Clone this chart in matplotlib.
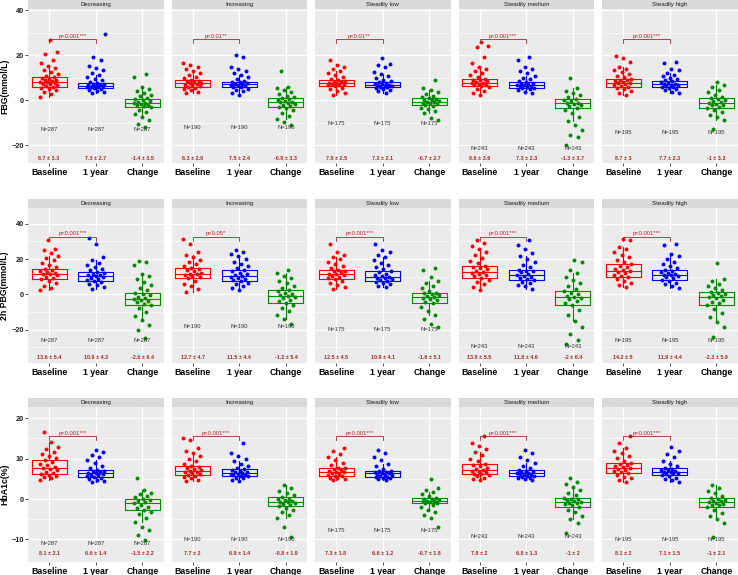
import matplotlib.pyplot as plt
import numpy as np

plt.rcParams['font.family'] = ['Liberation Sans', 'DejaVu Sans']

groups = ['Baseline', '1 year', 'Change']
trajectories = ['Decreasing', 'Increasing', 'Steadily low', 'Steadily medium', 'Steadily high']
measures = ['FBG(mmol/L)', '2h PBG(mmol/L)', 'HbA1c(%)']
n_patients = [287, 190, 175, 243, 195]

p_labels = [
    ['p<0.001***', 'p<0.01**', 'p<0.01**', 'p<0.001***', 'p<0.001***'],
    ['p<0.001***', 'p<0.05*', 'p<0.001***', 'p<0.001***', 'p<0.001***'],
    ['p<0.001***', 'p<0.001***', 'p<0.001***', 'p<0.001***', 'p<0.001***'],
]

# mean and sd printed under each group: [trajectory][group]
fbg_mean = [[8.7, 7.3, -1.4], [8.3, 7.5, -0.8], [7.9, 7.2, -0.7], [8.6, 7.3, -1.3], [8.7, 7.7, -1]]
fbg_sd = [[3.3, 2.7, 3.5], [2.8, 2.4, 3.3], [2.5, 2.1, 2.7], [3.6, 2.3, 3.7], [3, 2.3, 3.3]]
pbg_mean = [[13.6, 10.9, -2.6], [12.7, 11.5, -1.2], [12.5, 10.9, -1.6], [13.8, 11.8, -2], [14.2, 11.9, -2.3]]
pbg_sd = [[5.4, 4.3, 6.4], [4.7, 4.4, 5.4], [4.5, 4.1, 5.1], [5.5, 4.6, 6.4], [5, 4.4, 5.9]]
hba1c_mean = [[8.1, 6.6, -1.5], [7.7, 6.9, -0.8], [7.3, 6.6, -0.7], [7.8, 6.8, -1], [8.1, 7.1, -1]]
hba1c_sd = [[2.1, 1.4, 2.2], [2, 1.4, 1.9], [1.8, 1.2, 1.8], [2, 1.3, 2], [2, 1.5, 2.1]]

# box statistics: [trajectory][group]
fbg_q1 = [[5.9, 5.3, -3.3], [5.9, 5.6, -3.0], [6.2, 5.6, -2.2], [6.2, 5.5, -3.4], [5.9, 5.6, -3.4]]
fbg_med = [[8.0, 6.4, -1.5], [7.4, 7.0, -1.0], [7.4, 6.8, -0.7], [7.7, 6.8, -1.5], [7.7, 7.1, -1.2]]
fbg_q3 = [[10.1, 7.7, 0.3], [8.9, 8.1, 0.7], [8.9, 8.0, 0.7], [9.5, 7.9, 0.6], [9.5, 8.3, 0.7]]
pbg_q1 = [[8.7, 7.6, -6.2], [9.4, 7.6, -4.7], [8.9, 7.6, -4.9], [9.4, 7.9, -5.9], [9.8, 8.3, -5.9]]
pbg_med = [[11.7, 10.2, -2.5], [11.7, 10.2, -1.1], [11.3, 9.8, -1.5], [12.7, 11.1, -1.5], [13.0, 11.1, -1.5]]
pbg_q3 = [[14.2, 12.7, 0.9], [15.1, 13.6, 2.3], [14.0, 13.0, 0.9], [16.2, 14.0, 1.7], [17.0, 13.6, 1.1]]
hba1c_q1 = [[6.2, 5.5, -2.7], [6.0, 5.8, -1.7], [5.8, 5.5, -1.1], [6.1, 5.7, -1.9], [6.4, 6.0, -1.9]]
hba1c_med = [[7.7, 6.4, -1.1], [7.0, 6.4, -0.7], [6.8, 6.4, -0.4], [7.2, 6.4, -0.7], [7.6, 6.8, -0.8]]
hba1c_q3 = [[9.7, 7.2, 0.0], [8.2, 7.4, 0.4], [7.8, 7.0, 0.2], [8.6, 7.2, 0.3], [9.0, 7.6, 0.3]]

# individual values (estimated from the point clouds): [trajectory][group]
fbg_points = [
    [[1.5, 2.8, 3.8, 4.5, 5.0, 5.5, 5.9, 6.3, 6.7, 7.0, 7.3, 7.6, 7.9, 8.1, 8.4, 8.7, 9.0, 9.4, 9.8, 10.1, 10.8, 11.6, 12.5, 13.4, 14.3, 15.2, 16.5, 18.0, 20.5, 21.5, 26.5],
     [3.0, 3.6, 4.1, 4.5, 4.9, 5.3, 5.6, 5.8, 6.0, 6.2, 6.4, 6.6, 6.8, 7.0, 7.3, 7.7, 8.2, 8.8, 9.5, 10.3, 11.2, 12.2, 13.2, 14.2, 15.0, 17.8, 19.0, 29.6],
     [-11.9, -10.5, -9.0, -7.6, -6.3, -5.2, -4.3, -3.3, -2.8, -2.4, -2.0, -1.7, -1.5, -1.2, -0.9, -0.5, -0.1, 0.3, 0.9, 1.6, 2.4, 3.3, 4.2, 5.1, 6.0, 10.4, 11.6]],
    [[3.0, 3.8, 4.5, 5.0, 5.5, 5.9, 6.2, 6.5, 6.8, 7.1, 7.4, 7.7, 8.0, 8.3, 8.6, 8.9, 9.6, 10.4, 11.2, 12.0, 12.9, 13.8, 14.8, 15.6, 16.3],
     [2.2, 3.2, 4.0, 4.6, 5.1, 5.6, 5.9, 6.2, 6.5, 6.8, 7.0, 7.3, 7.6, 7.9, 8.1, 8.6, 9.3, 10.1, 11.0, 12.0, 13.0, 14.0, 14.8, 19.3, 19.9],
     [-11.0, -9.8, -8.4, -7.0, -5.6, -4.4, -3.6, -3.0, -2.5, -2.0, -1.6, -1.3, -1.0, -0.7, -0.3, 0.1, 0.4, 0.7, 1.3, 2.0, 2.8, 3.6, 4.5, 5.2, 5.9, 13.0]],
    [[2.2, 3.3, 4.2, 4.9, 5.5, 6.2, 6.5, 6.8, 7.0, 7.2, 7.4, 7.6, 7.9, 8.2, 8.5, 8.9, 9.5, 10.2, 11.0, 11.9, 12.8, 13.8, 14.7, 15.6, 18.0],
     [3.3, 3.9, 4.4, 4.8, 5.2, 5.6, 5.9, 6.1, 6.3, 6.6, 6.8, 7.0, 7.3, 7.6, 8.0, 8.5, 9.1, 9.8, 10.6, 11.5, 12.6, 14.8, 15.4, 16.0, 18.5],
     [-8.9, -8.1, -5.9, -5.0, -4.2, -3.4, -2.7, -2.2, -1.8, -1.5, -1.2, -0.9, -0.7, -0.4, -0.1, 0.2, 0.5, 0.7, 1.3, 2.0, 2.8, 3.6, 4.4, 5.2, 8.9]],
    [[2.2, 3.3, 4.2, 4.9, 5.6, 6.2, 6.6, 6.9, 7.2, 7.5, 7.7, 8.0, 8.4, 8.8, 9.1, 9.5, 10.2, 11.0, 11.9, 12.8, 13.8, 14.9, 16.3, 19.0, 23.7, 24.0, 26.0],
     [3.0, 3.7, 4.3, 4.8, 5.2, 5.5, 5.8, 6.1, 6.4, 6.6, 6.8, 7.0, 7.3, 7.6, 7.9, 8.5, 9.2, 10.0, 10.9, 11.9, 12.9, 13.9, 14.8, 17.8, 19.0],
     [-20.0, -16.6, -15.6, -13.3, -11.2, -9.2, -7.4, -5.8, -4.5, -3.4, -2.8, -2.3, -1.9, -1.5, -1.1, -0.6, -0.1, 0.6, 1.3, 2.1, 3.0, 4.0, 5.2, 10.0]],
    [[2.2, 3.2, 4.0, 4.7, 5.3, 5.9, 6.3, 6.7, 7.0, 7.4, 7.7, 8.0, 8.4, 8.8, 9.1, 9.5, 10.1, 10.8, 11.6, 12.4, 13.2, 14.0, 14.8, 17.0, 18.5, 19.6],
     [3.0, 3.7, 4.3, 4.8, 5.2, 5.6, 6.0, 6.3, 6.6, 6.9, 7.1, 7.3, 7.6, 7.9, 8.3, 8.8, 9.4, 10.0, 10.6, 11.2, 11.9, 13.3, 14.0, 16.3, 17.0],
     [-12.9, -8.9, -7.7, -6.5, -5.4, -4.4, -3.4, -2.9, -2.4, -2.0, -1.6, -1.2, -0.9, -0.5, -0.1, 0.3, 0.7, 1.5, 2.4, 3.4, 4.5, 5.6, 6.8, 8.1]],
]

pbg_points = [
    [[2.3, 3.8, 5.0, 6.2, 7.4, 8.7, 9.4, 10.1, 10.8, 11.4, 11.7, 12.2, 12.8, 13.4, 13.8, 14.2, 15.3, 16.5, 17.8, 19.2, 20.6, 22.0, 23.5, 25.0, 26.0, 30.6],
     [3.2, 4.3, 5.2, 6.0, 6.8, 7.6, 8.2, 8.8, 9.3, 9.8, 10.2, 10.7, 11.2, 11.8, 12.3, 12.7, 13.6, 14.6, 15.7, 16.8, 18.0, 19.4, 21.0, 28.7, 32.0],
     [-24.6, -20.4, -17.5, -14.8, -12.3, -10.0, -8.0, -6.2, -5.3, -4.5, -3.7, -3.0, -2.5, -2.0, -1.3, -0.6, 0.1, 0.9, 2.3, 3.8, 5.4, 7.0, 8.6, 10.2, 11.7, 16.4, 18.3, 18.8]],
    [[1.3, 3.0, 4.6, 6.0, 7.5, 9.4, 10.0, 10.6, 11.1, 11.4, 11.7, 12.3, 13.0, 13.8, 14.5, 15.1, 16.2, 17.3, 18.5, 19.7, 21.0, 22.5, 24.0, 28.7, 31.5],
     [2.3, 3.6, 4.7, 5.6, 6.6, 7.6, 8.2, 8.8, 9.3, 9.8, 10.2, 10.8, 11.6, 12.3, 13.0, 13.6, 14.8, 16.0, 17.3, 18.6, 20.0, 21.5, 23.0, 24.0, 25.0],
     [-16.6, -14.0, -11.7, -9.6, -7.8, -6.2, -4.7, -3.8, -3.0, -2.3, -1.7, -1.1, -0.5, 0.2, 0.9, 1.6, 2.3, 3.6, 5.0, 6.4, 7.8, 9.2, 10.6, 12.0, 13.6]],
    [[2.8, 4.0, 5.2, 6.4, 7.6, 8.9, 9.5, 10.0, 10.5, 11.0, 11.3, 11.8, 12.4, 13.0, 13.5, 14.0, 15.0, 16.1, 17.3, 18.5, 19.8, 21.1, 22.5, 24.0, 28.7],
     [4.2, 5.0, 5.7, 6.3, 7.0, 7.6, 8.1, 8.6, 9.0, 9.4, 9.8, 10.4, 11.0, 11.7, 12.4, 13.0, 14.1, 15.3, 16.6, 18.0, 19.5, 21.0, 22.5, 24.0, 25.0, 28.7],
     [-18.5, -16.6, -14.0, -11.6, -9.4, -7.1, -4.9, -4.1, -3.3, -2.6, -2.0, -1.5, -1.0, -0.5, 0.0, 0.5, 0.9, 2.1, 3.4, 4.8, 6.2, 7.8, 9.8, 13.6, 15.0]],
    [[2.6, 4.2, 5.6, 6.9, 8.2, 9.4, 10.2, 10.9, 11.6, 12.2, 12.7, 13.4, 14.2, 14.9, 15.6, 16.2, 17.6, 19.0, 20.6, 22.2, 23.9, 25.6, 27.4, 29.0, 30.6],
     [3.2, 4.5, 5.5, 6.3, 7.1, 7.9, 8.6, 9.3, 10.0, 10.6, 11.1, 11.7, 12.4, 13.0, 13.5, 14.0, 15.3, 16.7, 18.2, 19.8, 21.5, 23.4, 25.6, 28.0, 30.6],
     [-28.0, -26.0, -22.3, -18.6, -15.2, -12.0, -9.0, -5.9, -4.8, -3.8, -2.9, -2.2, -1.5, -0.8, 0.0, 0.9, 1.7, 3.2, 4.8, 6.5, 8.3, 10.1, 11.9, 13.6, 18.3, 19.3]],
    [[4.2, 5.4, 6.5, 7.6, 8.7, 9.8, 10.5, 11.2, 11.9, 12.5, 13.0, 13.8, 14.6, 15.4, 16.2, 17.0, 18.3, 19.7, 21.1, 22.6, 24.1, 25.5, 26.8, 30.6, 31.5],
     [3.8, 4.8, 5.7, 6.5, 7.4, 8.3, 9.0, 9.6, 10.2, 10.7, 11.1, 11.6, 12.2, 12.7, 13.2, 13.6, 14.7, 15.9, 17.2, 18.6, 20.0, 21.5, 23.0, 27.8, 28.7],
     [-24.2, -18.5, -15.6, -13.0, -10.6, -8.2, -5.9, -5.0, -4.1, -3.2, -2.3, -1.5, -0.9, -0.3, 0.3, 0.7, 1.1, 2.3, 3.5, 4.7, 6.0, 7.4, 8.9, 17.8]],
]

hba1c_points = [
    [[4.7, 5.1, 5.4, 5.7, 6.0, 6.2, 6.5, 6.8, 7.1, 7.4, 7.7, 8.0, 8.4, 8.8, 9.2, 9.7, 10.2, 10.7, 11.2, 11.7, 12.3, 13.0, 14.2, 16.5],
     [4.1, 4.5, 4.8, 5.0, 5.3, 5.5, 5.7, 5.9, 6.0, 6.2, 6.4, 6.5, 6.7, 6.9, 7.0, 7.2, 7.7, 8.3, 8.9, 9.6, 10.3, 11.0, 11.6, 12.2],
     [-10.2, -9.0, -7.7, -6.9, -5.8, -4.8, -3.8, -3.2, -2.7, -2.3, -1.9, -1.5, -1.1, -0.8, -0.5, -0.2, 0.0, 0.4, 0.8, 1.2, 1.6, 2.2, 5.3]],
    [[4.5, 4.8, 5.1, 5.4, 5.7, 6.0, 6.2, 6.4, 6.6, 6.8, 7.0, 7.2, 7.5, 7.7, 8.0, 8.2, 8.8, 9.4, 10.0, 10.7, 11.3, 12.0, 12.6, 14.6, 15.0],
     [4.5, 4.8, 5.1, 5.3, 5.6, 5.8, 5.9, 6.0, 6.2, 6.3, 6.4, 6.6, 6.8, 7.0, 7.2, 7.4, 7.8, 8.3, 8.8, 9.4, 10.0, 10.7, 11.3, 13.8],
     [-9.3, -6.9, -4.8, -4.0, -3.3, -2.7, -2.2, -1.7, -1.4, -1.2, -1.0, -0.8, -0.7, -0.5, -0.3, -0.1, 0.1, 0.4, 0.9, 1.5, 2.1, 2.8, 3.5]],
    [[4.7, 4.9, 5.1, 5.3, 5.6, 5.8, 6.0, 6.2, 6.4, 6.6, 6.8, 7.0, 7.2, 7.4, 7.6, 7.8, 8.4, 9.0, 9.7, 10.4, 11.1, 11.9, 12.6],
     [4.7, 4.9, 5.1, 5.2, 5.4, 5.5, 5.7, 5.9, 6.0, 6.2, 6.4, 6.5, 6.6, 6.8, 6.9, 7.0, 7.5, 8.1, 8.8, 9.6, 10.4, 11.3, 12.2],
     [-7.0, -4.8, -4.0, -3.3, -2.6, -2.0, -1.5, -1.1, -0.9, -0.8, -0.6, -0.5, -0.4, -0.3, -0.1, 0.0, 0.2, 0.7, 1.2, 1.7, 2.2, 2.8, 4.9]],
    [[4.7, 5.0, 5.3, 5.6, 5.9, 6.1, 6.3, 6.6, 6.8, 7.0, 7.2, 7.5, 7.8, 8.1, 8.4, 8.6, 9.3, 10.0, 10.8, 11.6, 12.4, 13.1, 13.8, 15.5],
     [4.7, 4.9, 5.1, 5.3, 5.5, 5.7, 5.8, 5.9, 6.1, 6.2, 6.4, 6.5, 6.7, 6.9, 7.0, 7.2, 7.7, 8.3, 8.9, 9.6, 10.4, 11.3, 12.2],
     [-8.4, -6.0, -5.0, -4.1, -3.3, -2.6, -1.9, -1.6, -1.3, -1.1, -0.9, -0.7, -0.5, -0.3, -0.1, 0.1, 0.3, 0.9, 1.6, 2.3, 3.0, 3.7, 4.3, 5.3]],
    [[4.3, 4.7, 5.1, 5.5, 6.0, 6.4, 6.6, 6.9, 7.1, 7.4, 7.6, 7.9, 8.2, 8.5, 8.8, 9.0, 9.5, 10.1, 10.7, 11.3, 11.9, 12.6, 13.8, 15.6],
     [4.3, 4.7, 5.0, 5.3, 5.7, 6.0, 6.2, 6.3, 6.5, 6.7, 6.8, 7.0, 7.1, 7.3, 7.5, 7.6, 8.2, 8.8, 9.5, 10.3, 11.1, 12.0, 13.0],
     [-9.3, -6.0, -5.0, -4.2, -3.4, -2.6, -1.9, -1.6, -1.4, -1.2, -1.0, -0.8, -0.6, -0.4, -0.2, 0.0, 0.3, 0.8, 1.4, 2.0, 2.7, 3.5]],
]

rows = [
    dict(points=fbg_points, q1=fbg_q1, med=fbg_med, q3=fbg_q3, mean=fbg_mean, sd=fbg_sd,
         ylim=(-28, 40.5), major=[-20, 0, 20, 40], minor=[-10, 10, 30], bracket=27, mean_y=-25.8),
    dict(points=pbg_points, q1=pbg_q1, med=pbg_med, q3=pbg_q3, mean=pbg_mean, sd=pbg_sd,
         ylim=(-39, 49), major=[-20, 0, 20, 40], minor=[-30, -10, 10, 30], bracket=32.5, mean_y=-35.7),
    dict(points=hba1c_points, q1=hba1c_q1, med=hba1c_med, q3=hba1c_q3, mean=hba1c_mean, sd=hba1c_sd,
         ylim=(-15.6, 22.8), major=[-10, 0, 10, 20], minor=[-5, 5, 15], bracket=15.5, mean_y=-13.6),
]

colors = ['#FF0000', '#0000FF', '#008B00']
text_red = '#A52A2A'

W, H = 738, 575
col_left = [28, 171.5, 315, 458.5, 602]
panel_w = 135.5
row_top = [9, 208, 407]
row_bot = [163, 363, 562]
strip_h = 9.5

fig = plt.figure(figsize=(W / 100, H / 100), dpi=100)

for r, row in enumerate(rows):
    ph = row_bot[r] - row_top[r]
    y0, y1 = row['ylim']
    yr = y1 - y0
    for c, traj in enumerate(trajectories):
        ax = fig.add_axes([col_left[c] / W, 1 - row_bot[r] / H, panel_w / W, ph / H])
        ax.set_facecolor('#EBEBEB')
        for s in ax.spines.values():
            s.set_visible(False)
        ax.set_xlim(0.55, 3.45)
        ax.set_ylim(y0, y1)
        ax.set_yticks(row['major'])
        ax.set_yticks(row['minor'], minor=True)
        ax.set_xticks([1, 2, 3], groups)
        ax.grid(True, which='major', color='white', lw=0.9)
        ax.grid(True, which='minor', axis='y', color='white', lw=0.45)
        ax.set_axisbelow(True)
        ax.tick_params(axis='x', length=2, width=0.6, color='#333333', pad=1.5,
                       labelsize=6.3, labelcolor='black')
        for lab in ax.get_xticklabels():
            lab.set_fontweight('bold')
        ax.tick_params(axis='y', which='minor', length=0)
        if c == 0:
            ax.tick_params(axis='y', length=2, width=0.6, color='#333333', pad=1,
                           labelsize=5.3, labelcolor='#222222')
            for lab in ax.get_yticklabels():
                lab.set_fontweight('bold')
        else:
            ax.tick_params(axis='y', length=0, labelleft=False)

        stats = []
        panel_min = np.inf
        for g in range(3):
            vals = np.array(row['points'][c][g])
            panel_min = min(panel_min, vals.min())
            k = np.arange(len(vals))
            offs = ((k * 0.6180339 + 0.31 * g + 0.17 * c) % 1 - 0.5) * 0.4
            ax.scatter(g + 1 + offs, vals, s=8, color=colors[g], linewidths=0, zorder=2)
            q1, md, q3 = row['q1'][c][g], row['med'][c][g], row['q3'][c][g]
            iqr = q3 - q1
            lo = vals[vals >= q1 - 1.5 * iqr].min()
            hi = vals[vals <= q3 + 1.5 * iqr].max()
            stats.append(dict(med=md, q1=q1, q3=q3, whislo=lo, whishi=hi, fliers=[]))
        for g in range(3):
            ax.bxp([stats[g]], positions=[g + 1], widths=0.75, showcaps=False,
                   showfliers=False, manage_ticks=False,
                   boxprops=dict(color=colors[g], lw=0.8),
                   medianprops=dict(color=colors[g], lw=0.8),
                   whiskerprops=dict(color=colors[g], lw=0.8), zorder=3)

        # sample size and mean +/- sd labels
        for g in range(3):
            ax.text(g + 1, panel_min - 0.02 * yr, f'N={n_patients[c]}', ha='center', va='center',
                    fontsize=4.2, color='#333333', zorder=4)
            ax.text(g + 1, row['mean_y'], f"{row['mean'][c][g]:g} ± {row['sd'][c][g]:g}",
                    ha='center', va='center', fontsize=3.9, fontweight='bold', color=text_red, zorder=4)

        # significance bracket
        by = row['bracket']
        d = 0.025 * yr
        ax.plot([1, 1, 2, 2], [by - d, by, by, by - d], color=text_red, lw=0.6, zorder=4)
        ax.text(1.5, by + 0.004 * yr, p_labels[r][c], ha='center', va='bottom',
                fontsize=4.2, color=text_red, zorder=4)

        # facet strip
        ax.add_patch(plt.Rectangle((0, 1), 1, strip_h / ph, transform=ax.transAxes,
                                   facecolor='#D9D9D9', edgecolor='none', clip_on=False))
        ax.text(0.5, 1 + strip_h / ph / 2, traj, transform=ax.transAxes, ha='center',
                va='center', fontsize=4.4, color='#1A1A1A')

    fig.text(4.5 / W, 1 - (row_top[r] + ph / 2) / H, measures[r], rotation=90,
             ha='center', va='center', fontsize=6.3, fontweight='bold')

fig.savefig('out.png', dpi=100)
